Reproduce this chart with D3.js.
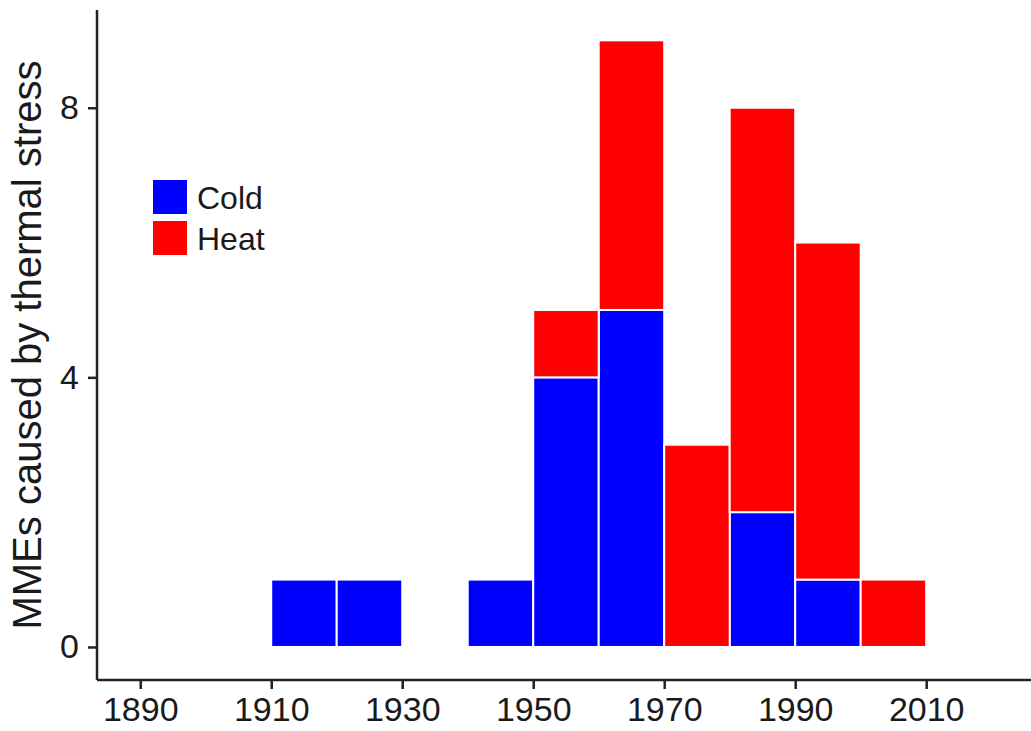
<!DOCTYPE html>
<html>
<head>
<meta charset="utf-8">
<script src="https://cdn.jsdelivr.net/npm/d3@7"></script>
<style>
  body { margin: 0; background: #fff; }
  svg { font-family: "Liberation Sans", Arial, sans-serif; }
</style>
</head>
<body>
<svg width="1031" height="731"></svg>
<script>
// decade bins (start year) and counts per cause
const decades = [1910, 1920, 1940, 1950, 1960, 1970, 1980, 1990, 2000]
const cold = [1, 1, 1, 4, 5, 0, 2, 1, 0]
const heat = [0, 0, 0, 1, 4, 3, 6, 5, 1]
const causes = ['Cold', 'Heat']
const colors = ['#0000ff', '#ff0000']
const xTicks = [1890, 1910, 1930, 1950, 1970, 1990, 2010]
const yTicks = [0, 4, 8]

const svg = d3.select('svg')

const x = d3.scaleLinear().domain([1883.4, 2026]).range([97, 1031])
const y = d3.scaleLinear().domain([-0.49, 9.45]).range([680, 10])

const rows = decades.map((d, i) => ({ start: d, Cold: cold[i], Heat: heat[i] }))
const stacked = d3.stack().keys(causes)(rows)

const color = d3.scaleOrdinal().domain(causes).range(colors)

// bars
svg.append('g')
  .selectAll('g')
  .data(stacked)
  .join('g')
    .attr('fill', d => color(d.key))
  .selectAll('rect')
  .data(d => d.filter(s => s[1] > s[0]))
  .join('rect')
    .attr('x', d => x(d.data.start))
    .attr('width', d => x(d.data.start + 10) - x(d.data.start))
    .attr('y', d => y(d[1]))
    .attr('height', d => y(d[0]) - y(d[1]))
    .attr('stroke', '#fff')
    .attr('stroke-width', 2)

// axes
const xAxis = svg.append('g')
  .attr('transform', 'translate(0,680)')
  .call(d3.axisBottom(x).tickValues(xTicks).tickFormat(d3.format('d')).tickSize(9).tickPadding(8))
const yAxis = svg.append('g')
  .attr('transform', 'translate(97,0)')
  .call(d3.axisLeft(y).tickValues(yTicks).tickSize(9).tickPadding(9))

for (const ax of [xAxis, yAxis]) {
  ax.select('.domain').attr('stroke', '#222').attr('stroke-width', 2.5)
  ax.selectAll('.tick line').attr('stroke', '#222').attr('stroke-width', 2.5)
  ax.selectAll('text').attr('fill', '#1a1a1a').attr('font-size', 34)
    .attr('font-family', '"Liberation Sans", Arial, sans-serif')
}
xAxis.select('.domain').attr('d', 'M97,0H1031')
yAxis.select('.domain').attr('d', 'M0,10V680')

// y title
svg.append('text')
  .attr('transform', 'translate(41,345) rotate(-90)')
  .attr('text-anchor', 'middle')
  .attr('font-size', 40)
  .attr('fill', '#1a1a1a')
  .text('MMEs caused by thermal stress')

// legend
const legend = svg.append('g').attr('transform', 'translate(153,180)')
const item = legend.selectAll('g')
  .data(causes)
  .join('g')
    .attr('transform', (d, i) => `translate(0,${i * 41})`)
item.append('rect')
  .attr('width', 34).attr('height', 34)
  .attr('fill', d => color(d))
item.append('text')
  .attr('x', 44).attr('y', 29)
  .attr('font-size', 32)
  .attr('fill', '#1a1a1a')
  .text(d => d)
</script>
</body>
</html>
